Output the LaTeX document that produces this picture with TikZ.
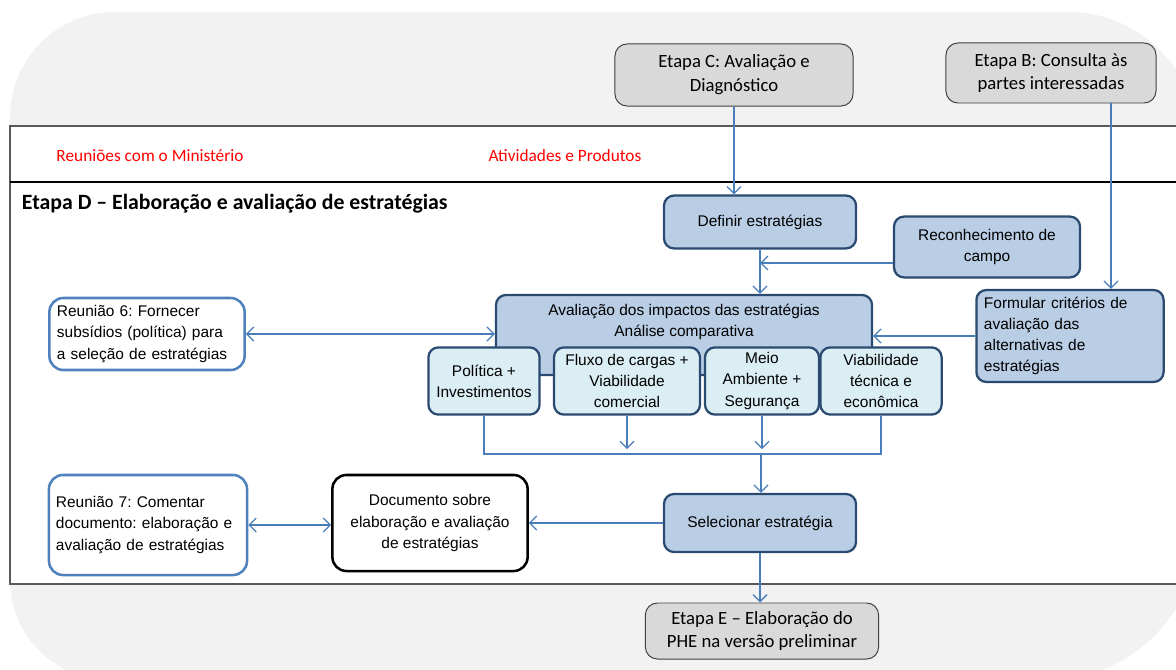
\documentclass[tikz,border=0pt]{standalone}
\usepackage{fontspec}
\setmainfont{Carlito}
\newfontfamily\arialfont{Liberation Sans}
\usetikzlibrary{arrows.meta}

\definecolor{bggray}{HTML}{F2F2F2}
\definecolor{bandline}{HTML}{595959}
\definecolor{etapafill}{HTML}{D9D9D9}
\definecolor{etapaline}{HTML}{404040}
\definecolor{blokfill}{HTML}{B9CDE5}
\definecolor{blokline}{HTML}{2A4A70}
\definecolor{subfill}{HTML}{DBEEF4}
\definecolor{reunline}{HTML}{4F81BD}
\definecolor{arrowblue}{HTML}{4A7EBB}

\tikzset{
  etapa/.style={draw=etapaline, line width=0.7pt, fill=etapafill, rounded corners=0.3cm,
    align=center, font=\fontsize{13.3}{17}\selectfont},
  blok/.style={draw=blokline, line width=1.6pt, fill=blokfill, rounded corners=0.25cm,
    align=center, font=\arialfont\fontsize{11}{15}\selectfont},
  subbox/.style={blok, fill=subfill, minimum height=1.68cm},
  reun/.style={draw=reunline, line width=1.8pt, fill=white, rounded corners=0.35cm,
    align=left, font=\arialfont\fontsize{11}{15}\selectfont},
  docbox/.style={draw=black, line width=1.8pt, fill=white, rounded corners=0.35cm,
    align=center, font=\arialfont\fontsize{11}{15}\selectfont},
  flow/.style={-{Straight Barb[length=5pt,width=10pt]}, draw=arrowblue, line width=0.9pt},
  twoway/.style={flow, {Straight Barb[length=5pt,width=10pt]}-{Straight Barb[length=5pt,width=10pt]}},
  link/.style={draw=arrowblue, line width=0.9pt},
  redlabel/.style={text=red, font=\fontsize{12.3}{14}\selectfont}
}

\begin{document}
\frenchspacing
\begin{tikzpicture}[x=0.025cm, y=-0.025cm]
\useasboundingbox (0,0) rectangle (1176,670);
\clip (0,0) rectangle (1176,670);

% Background
\fill[bggray] (10,117) arc[start angle=180, end angle=90, radius=2.625cm]
  -- (1068,12) arc[start angle=90, end angle=0, radius=3.25cm]
  -- (1198,530) arc[start angle=0, end angle=-90, radius=3.75cm]
  -- (110,680) arc[start angle=270, end angle=180, radius=2.5cm] -- cycle;

% Band
\draw[fill=white, draw=bandline, line width=0.8pt] (10,126) rectangle (1200,584);
\draw[black, line width=1.3pt] (10,182) -- (1200,182);
\node[redlabel] (reunhead) at (150,156) {Reuniões com o Ministério};
\node[redlabel] (ativhead) at (565,156) {Atividades e Produtos};
\node[anchor=west, font=\bfseries\fontsize{15.5}{18}\selectfont] (title) at (17,204)
  {Etapa D – Elaboração e avaliação de estratégias};

% Etapas
\node[etapa, minimum width=5.95cm, minimum height=1.55cm] (etapaC) at (734,75) {Etapa C: Avaliação e\\Diagnóstico};
\node[etapa, minimum width=5.25cm, minimum height=1.5cm] (etapaB) at (1051,73) {Etapa B: Consulta às\\partes interessadas};
\node[etapa, minimum width=5.83cm, minimum height=1.4cm] (etapaE) at (762,631) {Etapa E – Elaboração do\\PHE na versão preliminar};

% Activities
\node[blok, minimum width=4.8cm, minimum height=1.32cm] (definir) at (760,222) {Definir estratégias};
\node[blok, minimum width=4.65cm, minimum height=1.52cm] (recon) at (987,247) {Reconhecimento de\\campo};
\node[blok, minimum width=9.4cm, minimum height=2cm,
  label={[anchor=north, yshift=-0.12cm, align=center, font=\arialfont\fontsize{11}{15}\selectfont]north:Avaliação dos impactos das estratégias\\Análise comparativa}]
  (aval) at (684,335) {};
\node[blok, minimum width=4.68cm, minimum height=2.3cm, text width=4.3cm, align=left] (formular) at (1070,336)
  {Formular critérios de\\avaliação das\\alternativas de\\estratégias};
\node[subbox, minimum width=2.78cm] (pol) at (484,381) {Política +\\Investimentos};
\node[subbox, minimum width=3.65cm] (flux) at (627,381) {Fluxo de cargas +\\Viabilidade\\comercial};
\node[subbox, minimum width=2.85cm] (meio) at (762,381) {Meio\\Ambiente +\\Segurança};
\node[subbox, minimum width=3.03cm] (viab) at (881,381) {Viabilidade\\técnica e\\econômica};
\node[blok, minimum width=4.8cm, minimum height=1.45cm] (selec) at (760,523) {Selecionar estratégia};
\node[docbox, minimum width=4.88cm, minimum height=2.4cm] (docu) at (430,523) {Documento sobre\\elaboração e avaliação\\de estratégias};

% Meetings
\node[reun, minimum width=4.88cm, minimum height=1.8cm, text width=4.5cm] (reun6) at (147,334)
  {Reunião 6: Fornecer\\subsídios (política) para\\a seleção de estratégias};
\node[reun, minimum width=4.95cm, minimum height=2.5cm, text width=4.6cm] (reun7) at (148,525)
  {Reunião 7: Comentar\\documento: elaboração e\\avaliação de estratégias};

% Arrows
\coordinate (bus) at (761,454);
\draw[flow] (etapaC.south) -- (etapaC.south |- definir.north);
\draw[flow] ([xshift=1.5cm]etapaB.south) -- ([xshift=1.5cm]etapaB.south |- formular.north);
\draw[flow] (definir.south) -- (definir.south |- aval.north);
\draw[flow] ([yshift=-0.4cm]recon.west) -- ([yshift=-0.4cm]recon.west -| definir.south);
\draw[flow] (formular.west) -- (formular.west -| aval.east);
\draw[twoway] (reun6.east) -- (reun6.east -| aval.west);
\draw[link] (pol.south) -- (pol.south |- bus) -- (viab.south |- bus) -- (viab.south);
\draw[flow] (flux.south) -- ([yshift=0.12cm]flux.south |- bus);
\draw[flow] (meio.south) -- ([yshift=0.12cm]meio.south |- bus);
\draw[flow] (bus) -- (bus |- selec.north);
\draw[flow] (selec.west) -- (docu.east);
\draw[twoway] (reun7.east) -- (reun7.east -| docu.west);
\draw[flow] (selec.south) -- (selec.south |- etapaE.north);
\end{tikzpicture}
\end{document}
